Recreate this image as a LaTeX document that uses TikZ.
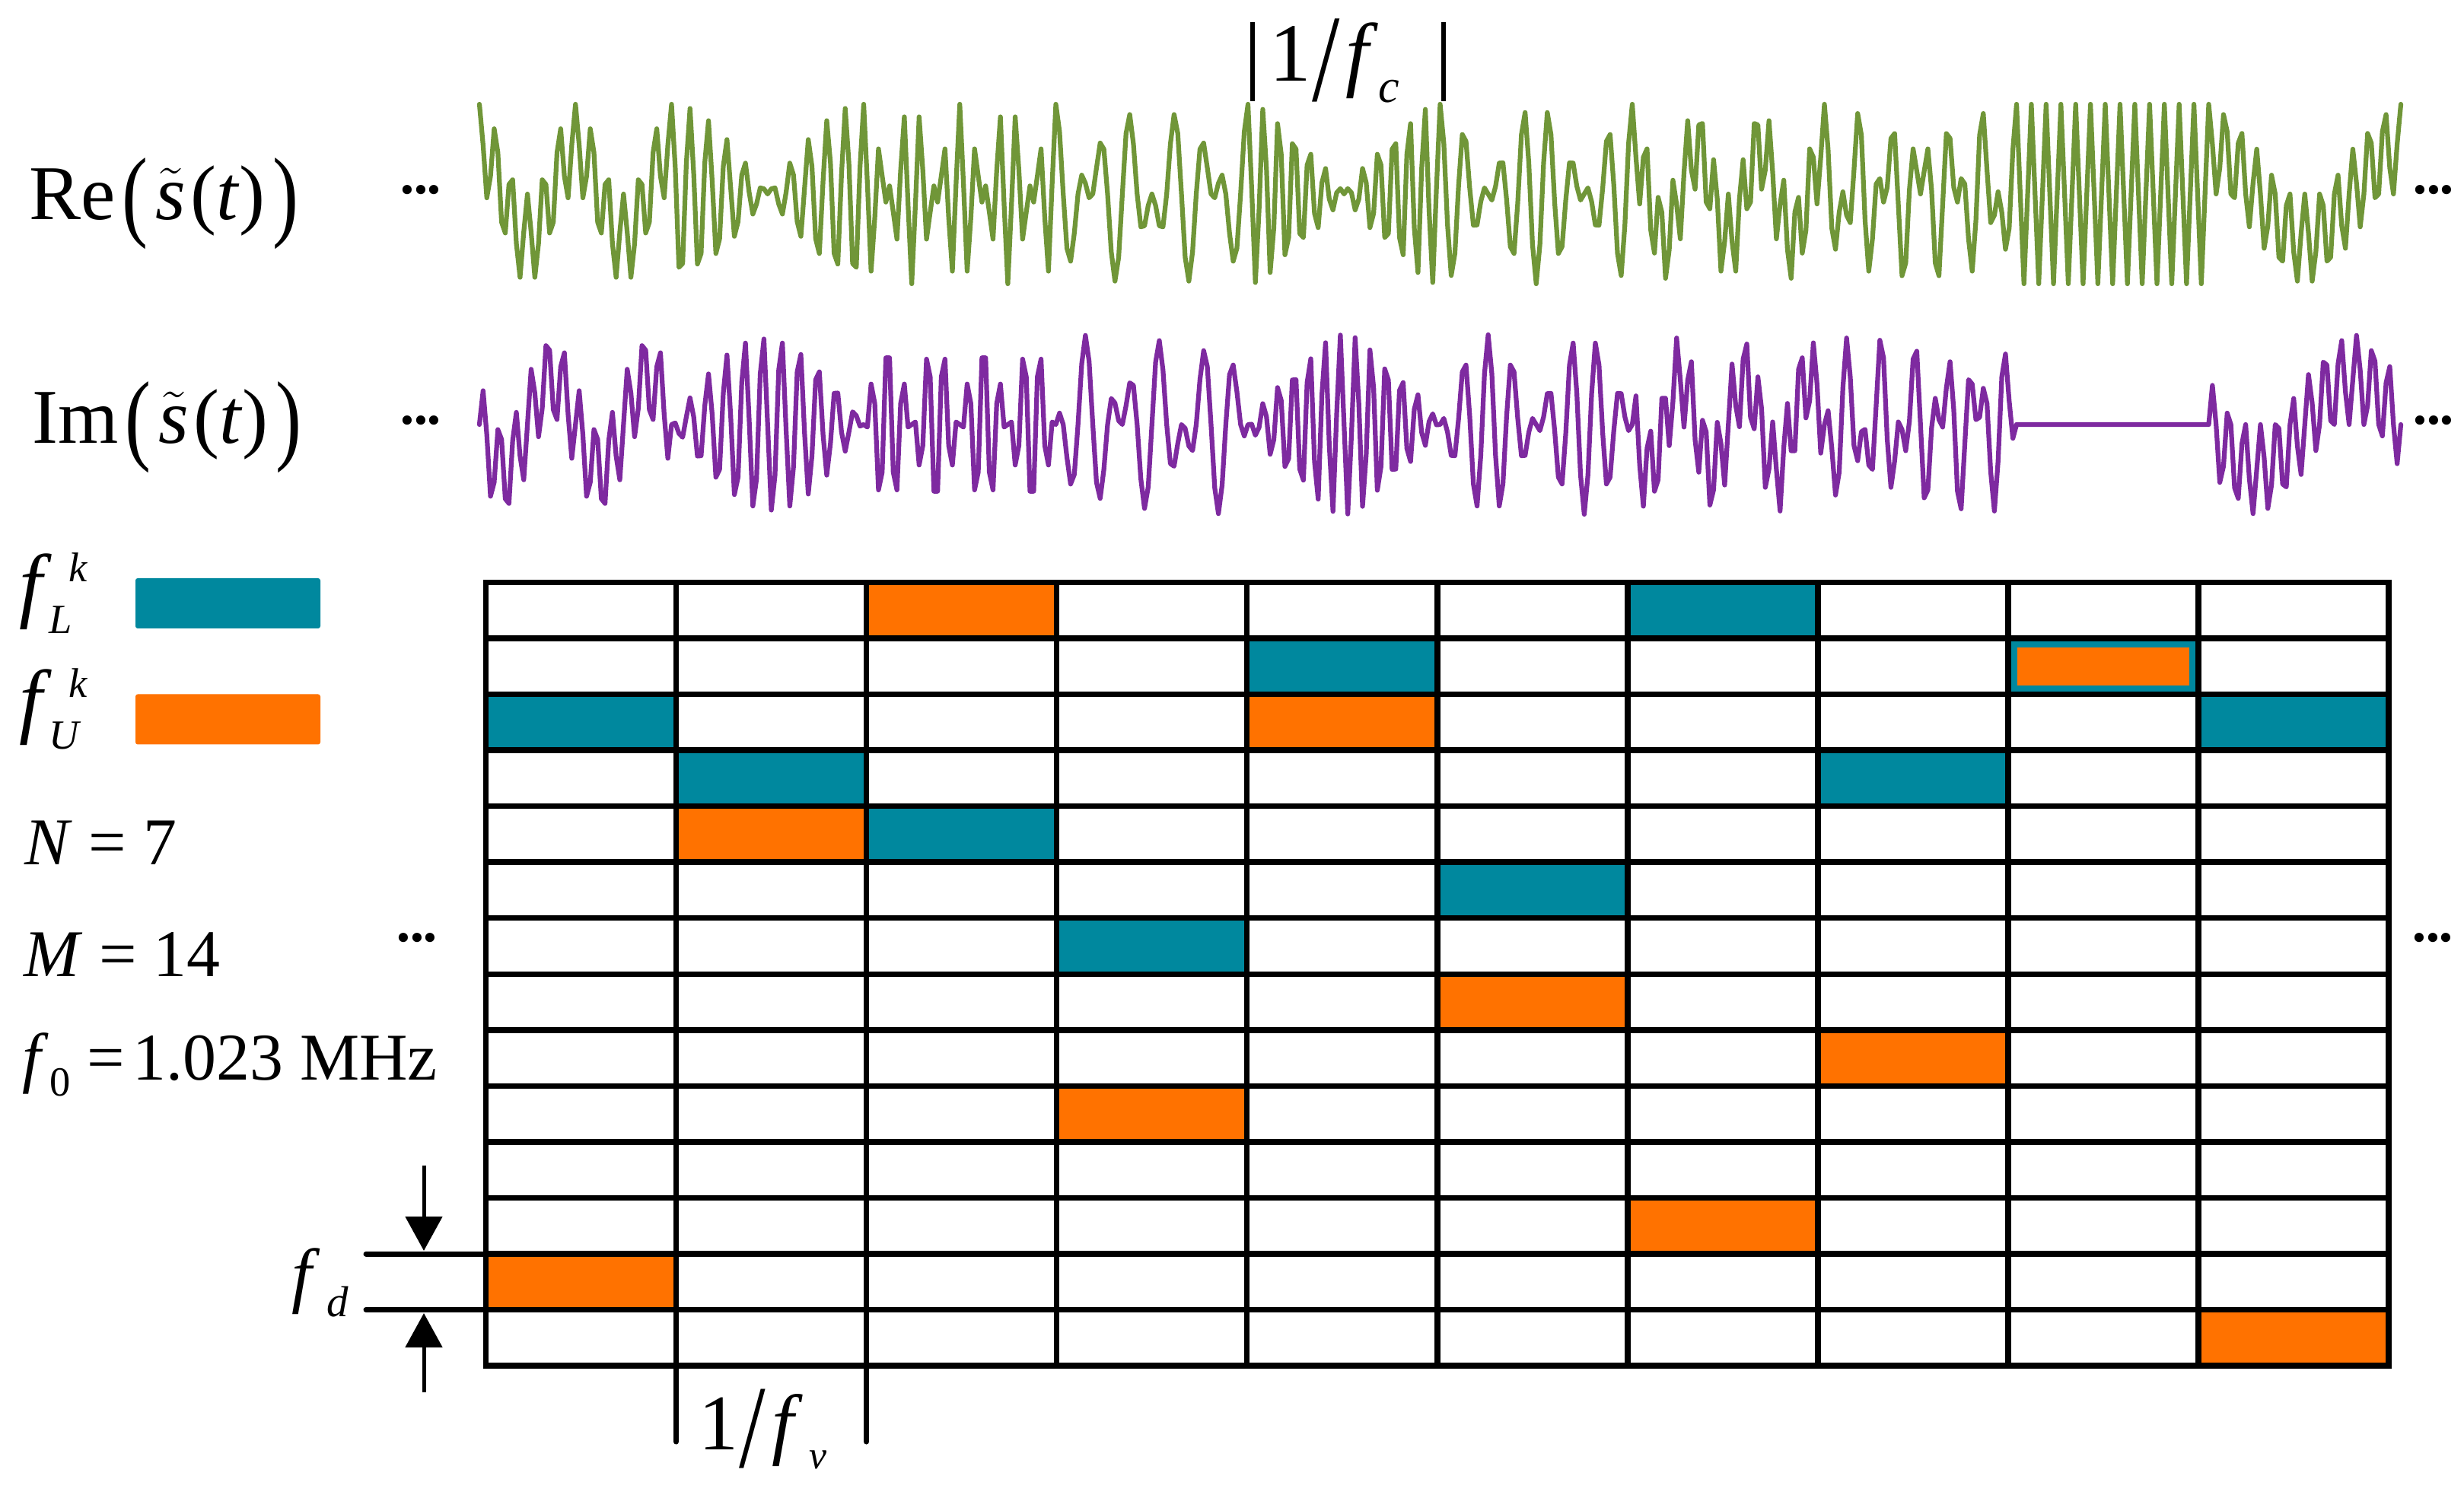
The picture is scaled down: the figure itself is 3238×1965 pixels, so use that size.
\documentclass[tikz,border=0pt]{standalone}
\usepackage{amsmath}
\usepackage{graphicx}
\usepackage{fontspec}
\setmainfont{Liberation Serif}
\usetikzlibrary{arrows.meta}

\definecolor{cellteal}{RGB}{0,136,158}
\definecolor{cellorange}{RGB}{255,114,0}
\definecolor{wavegreen}{RGB}{112,150,56}
\definecolor{wavepurple}{RGB}{126,42,160}

\newcommand{\bigpar}[1]{\raisebox{-0.1em}{\scalebox{1}[1.3]{#1}}}
\newcommand{\stil}{$\tilde{\textit{s}}$}
\newcommand{\lowsub}[2][0.55]{\raisebox{-0.25em}{\scalebox{#1}{#2}}}
\newcommand{\highsup}[2][0.5]{\raisebox{0.37em}{\scalebox{#1}{#2}}}
\newcommand{\bigslash}{\raisebox{-0.23em}{\scalebox{1.2}[1.5]{/}}}
\newcommand{\cellfill}[3]{\fill[#3] ({638.5+250.05*#1},{765.5+73.54*#2}) rectangle ++(250.05,73.54);}

\tikzset{
  gridline/.style={line width=0.75mm, line cap=rect},
  extline/.style={line width=0.7mm, line cap=round},
  wave/.style={line width=0.62mm, line join=round, line cap=round},
  lbl/.style={inner sep=0pt, outer sep=0pt, anchor=base west},
  dotrow/.style={inner sep=0pt, outer sep=0pt, font=\fontsize{14.5}{15}\selectfont},
  legendbar/.style={minimum width=24.3mm, minimum height=6.6mm, inner sep=0pt, rounded corners=0.3mm},
  dimarrow/.style={line width=0.5mm, -{Triangle[width=4.8mm, length=4.5mm]}},
  markbar/.style={line width=0.6mm},
}

\def\wavecols{0/12/2,1/11/10,2/10/14,3/8/5,4/13/12,5/9/7,6/14/3,7/11/6,8/13/13,9/12/1}

\begin{document}
\begin{tikzpicture}[x=0.1mm, y=-0.1mm]
\useasboundingbox (0,0) rectangle (3238,1965);

% ---------- waveforms ----------
\draw[wave, wavegreen] (630,137)
  \foreach \k/\a/\b in \wavecols {
    -- plot[domain=0:52, samples=53, variable=\q]
      ({630+252.5*(\k+\q/52)}, {255-59*(cos(360*(\a*\q/52))+cos(360*(\b*\q/52)))})
  };
\draw[wave, wavepurple] (630,558)
  \foreach \k/\a/\b in \wavecols {
    -- plot[domain=0:52, samples=53, variable=\q]
      ({630+252.5*(\k+\q/52)}, {558-59*(sin(360*(\a*\q/52))-sin(360*(\b*\q/52)))})
  };

% 1/f_c markers
\coordinate (mcLa) at (1646,29);  \coordinate (mcLb) at (1646,133);
\coordinate (mcRa) at (1897,29);  \coordinate (mcRb) at (1897,133);
\draw[markbar] (mcLa) -- (mcLb);
\draw[markbar] (mcRa) -- (mcRb);
\node[lbl, font=\fontsize{31}{31}\selectfont] (fclab) at (1668,107)
  {1\kern0.02em\bigslash\kern0.07em\textit{f}\kern0.0em\lowsub[0.57]{\textit{c}}};

% signal labels
\node[lbl, font=\fontsize{29}{30}\selectfont] (relab) at (39,289)
  {Re\kern0.08em\bigpar{(}\kern0.1em\stil\kern0.06em(\textit{t})\kern0.1em\bigpar{)}};
\node[lbl, font=\fontsize{29}{30}\selectfont] (imlab) at (43,583)
  {Im\kern0.08em\bigpar{(}\kern0.1em\stil\kern0.06em(\textit{t})\kern0.1em\bigpar{)}};

% dots
\node[dotrow] (dotReL) at (553,255) {•••};
\node[dotrow] (dotImL) at (553,558) {•••};
\node[dotrow] (dotReR) at (3198,255) {•••};
\node[dotrow] (dotImR) at (3198,558) {•••};
\node[dotrow] (dotGrL) at (548,1238) {•••};
\node[dotrow] (dotGrR) at (3197,1238) {•••};

% ---------- legend ----------
\node[legendbar, fill=cellteal] (barL) at (299.5,793) {};
\node[legendbar, fill=cellorange] (barU) at (299.5,945.5) {};
\node[lbl, font=\fontsize{31}{31}\selectfont] (fLlab) at (25,805)
  {\textit{f}\kern-0.03em\rlap{\lowsub[0.5]{\textit{L}}}\kern0.24em\highsup{\textit{k}}};
\node[lbl, font=\fontsize{31}{31}\selectfont] (fUlab) at (25,957)
  {\textit{f}\kern-0.03em\rlap{\lowsub[0.5]{\textit{U}}}\kern0.24em\highsup{\textit{k}}};
\node[lbl, font=\fontsize{25}{25}\selectfont] (Nlab) at (32,1137) {\textit{N} = 7};
\node[lbl, font=\fontsize{25}{25}\selectfont] (Mlab) at (31,1283) {\textit{M} = 14};
\node[lbl, font=\fontsize{25}{25}\selectfont] (f0lab) at (29,1419)
  {\textit{f}\kern0.02em\lowsub[0.62]{0} =\kern0.12em1.023 MHz};

% ---------- grid cells ----------
\cellfill{0}{2}{cellteal}   \cellfill{0}{12}{cellorange}
\cellfill{1}{3}{cellteal}   \cellfill{1}{4}{cellorange}
\cellfill{2}{4}{cellteal}   \cellfill{2}{0}{cellorange}
\cellfill{3}{6}{cellteal}   \cellfill{3}{9}{cellorange}
\cellfill{4}{1}{cellteal}   \cellfill{4}{2}{cellorange}
\cellfill{5}{5}{cellteal}   \cellfill{5}{7}{cellorange}
\cellfill{6}{0}{cellteal}   \cellfill{6}{11}{cellorange}
\cellfill{7}{3}{cellteal}   \cellfill{7}{8}{cellorange}
\cellfill{8}{1}{cellteal}
\fill[cellorange] ({638.5+250.05*8+12},{765.5+73.54*1+12}) rectangle ({638.5+250.05*9-12},{765.5+73.54*2-12});
\cellfill{9}{2}{cellteal}   \cellfill{9}{13}{cellorange}

% ---------- grid lines ----------
\foreach \r in {0,...,14}
  \draw[gridline] (638.5,{765.5+73.54*\r}) -- (3139,{765.5+73.54*\r});
\foreach \c in {0,...,10}
  \draw[gridline] ({638.5+250.05*\c},765.5) -- ({638.5+250.05*\c},1795);

% f_d extension lines and arrows
\coordinate (fdA) at (481,1648);    \coordinate (fdB) at (638.5,1648);
\coordinate (fdC) at (481,1721.5);  \coordinate (fdD) at (638.5,1721.5);
\draw[extline] (fdA) -- (fdB);
\draw[extline] (fdC) -- (fdD);
\coordinate (arTopS) at (557,1532); \coordinate (arTopE) at (557,1644);
\coordinate (arBotS) at (557,1830); \coordinate (arBotE) at (557,1726);
\draw[dimarrow] (arTopS) -- (arTopE);
\draw[dimarrow] (arBotS) -- (arBotE);
\node[lbl, font=\fontsize{27}{27}\selectfont] (fdlab) at (383,1707)
  {\textit{f}\kern0.1em\lowsub[0.6]{\textit{d}}};

% 1/f_v extension bars
\coordinate (fvLa) at (888.55,1795); \coordinate (fvLb) at (888.55,1895);
\coordinate (fvRa) at (1138.6,1795); \coordinate (fvRb) at (1138.6,1895);
\draw[extline] (fvLa) -- (fvLb);
\draw[extline] (fvRa) -- (fvRb);
\node[lbl, font=\fontsize{29.5}{30}\selectfont] (fvlab) at (918,1905)
  {1\kern0.02em\bigslash\kern0.08em\textit{f}\kern0.08em\lowsub[0.5]{\textit{v}}};

\end{tikzpicture}
\end{document}
